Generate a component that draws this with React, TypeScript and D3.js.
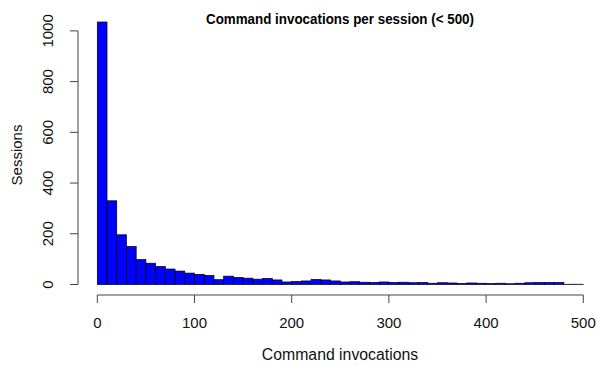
import { useEffect, useRef } from "react";
import * as d3 from "d3";

// histogram of command invocations, bins of width 10 from 0 to 500
const binStarts = d3.range(0, 500, 10);
const counts = [
  1035, 330, 196, 150, 98, 84, 71, 61, 53, 45,
  40, 36, 19, 33, 28, 25, 21, 24, 18, 10,
  12, 14, 20, 18, 14, 10, 11, 9, 8, 10,
  8, 9, 7, 8, 5, 7, 6, 4, 6, 5,
  4, 5, 3, 5, 7, 8, 8, 8, 1, 1,
];
const xTicks = [0, 100, 200, 300, 400, 500];
const yTicks = [0, 200, 400, 600, 800, 1000];

const title = "Command invocations per session (< 500)";
const xLabel = "Command invocations";
const yLabel = "Sessions";

export default function App() {
  const ref = useRef<SVGSVGElement>(null);

  useEffect(() => {
    if (!ref.current) return;
    const svg = d3.select(ref.current);
    svg.selectAll("*").remove();

    const font = "Liberation Sans, Arial, Helvetica, sans-serif";

    const x = d3.scaleLinear().domain([0, 500]).range([97.3, 583.3]);
    const y = d3.scaleLinear().domain([0, 1035]).range([284.5, 22]);
    const axisY = 295; // bottom of plot region
    const axisX = 78; // left of plot region

    const data = binStarts.map((b, i) => ({ x0: b, x1: b + 10, n: counts[i] }));

    svg.append("g")
      .selectAll("rect")
      .data(data)
      .join("rect")
      .attr("x", (d) => x(d.x0))
      .attr("width", (d) => x(d.x1) - x(d.x0))
      .attr("y", (d) => y(d.n))
      .attr("height", (d) => y(0) - y(d.n))
      .attr("fill", "#0000ff")
      .attr("stroke", "#000")
      .attr("stroke-width", 0.7);

    // x axis
    const gx = svg.append("g").attr("stroke", "#444").attr("fill", "none");
    gx.append("line")
      .attr("x1", x(0)).attr("x2", x(500))
      .attr("y1", axisY).attr("y2", axisY);
    xTicks.forEach((t) => {
      gx.append("line")
        .attr("x1", x(t)).attr("x2", x(t))
        .attr("y1", axisY).attr("y2", axisY + 8);
    });
    svg.append("g")
      .selectAll("text")
      .data(xTicks)
      .join("text")
      .attr("x", (d) => x(d))
      .attr("y", 328)
      .attr("text-anchor", "middle")
      .style("font-family", font)
      .style("font-size", "15px")
      .attr("fill", "#111")
      .text((d) => d);

    // y axis
    const gy = svg.append("g").attr("stroke", "#444").attr("fill", "none");
    gy.append("line")
      .attr("x1", axisX).attr("x2", axisX)
      .attr("y1", y(0)).attr("y2", y(1000));
    yTicks.forEach((t) => {
      gy.append("line")
        .attr("x1", axisX - 8).attr("x2", axisX)
        .attr("y1", y(t)).attr("y2", y(t));
    });
    svg.append("g")
      .selectAll("text")
      .data(yTicks)
      .join("text")
      .attr("transform", (d) => `translate(53,${y(d)}) rotate(-90)`)
      .attr("text-anchor", "middle")
      .style("font-family", font)
      .style("font-size", "15px")
      .attr("fill", "#111")
      .text((d) => d);

    svg.append("text")
      .attr("x", 340)
      .attr("y", 24)
      .attr("text-anchor", "middle")
      .attr("textLength", 268)
      .attr("lengthAdjust", "spacingAndGlyphs")
      .style("font-family", font)
      .style("font-size", "15px")
      .style("font-weight", "bold")
      .attr("fill", "#000")
      .text(title);

    svg.append("text")
      .attr("x", 340)
      .attr("y", 360)
      .attr("text-anchor", "middle")
      .style("font-family", font)
      .style("font-size", "15.8px")
      .attr("fill", "#111")
      .text(xLabel);

    svg.append("text")
      .attr("transform", `translate(22,155) rotate(-90)`)
      .attr("text-anchor", "middle")
      .style("font-family", font)
      .style("font-size", "15px")
      .attr("fill", "#111")
      .text(yLabel);
  }, []);

  return (
    <svg
      ref={ref}
      width={598}
      height={366}
      style={{ position: "absolute", left: 0, top: 0, background: "#fff" }}
    />
  );
}
